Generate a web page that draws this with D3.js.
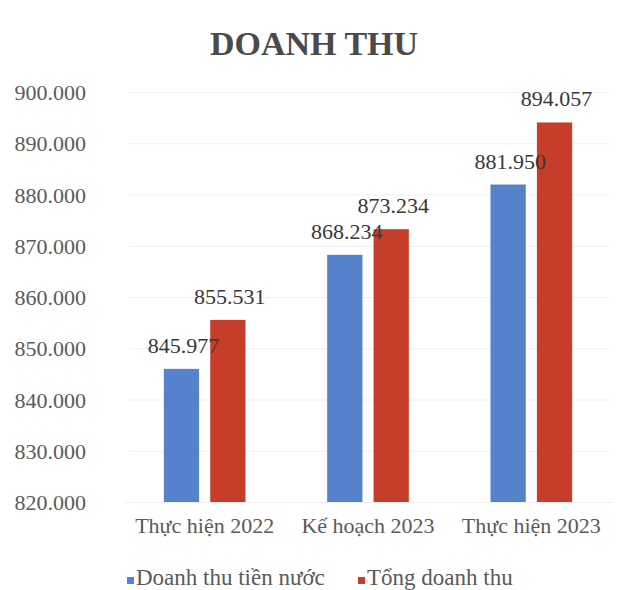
<!DOCTYPE html>
<html>
<head>
<meta charset="utf-8">
<script src="https://cdn.jsdelivr.net/npm/d3@7"></script>
<style>
  body { margin: 0; background: #fff; }
  text { font-family: "Liberation Serif", "Times New Roman", serif; }
</style>
</head>
<body>
<div id="chart-area"></div>
<script>
const categories = ["Thực hiện 2022", "Kế hoạch 2023", "Thực hiện 2023"];
const seriesNames = ["Doanh thu tiền nước", "Tổng doanh thu"];
const waterRevenue = [845977, 868234, 881950];
const totalRevenue = [855531, 873234, 894057];
const yTicks = [820000, 830000, 840000, 850000, 860000, 870000, 880000, 890000, 900000];
const colors = ["#5682cb", "#c63e2a"];

const config = {
    width: 637,
    height: 590,
    margin: { left: 123, right: 24, top: 92, bottom: 88 }
};
config.chartWidth = config.width - config.margin.left - config.margin.right;
config.chartHeight = config.height - config.margin.top - config.margin.bottom;

const rows = categories.map((c, i) => ({
    category: c,
    values: [waterRevenue[i], totalRevenue[i]]
}));

const fmt = v => d3.format(",")(v).replace(/,/g, ".");

const svg = d3.select('#chart-area')
    .append('svg')
    .attr("width", config.width)
    .attr("height", config.height)
    .style('background', '#fff');

svg.append('text')
    .attr('x', 314)
    .attr('y', 55)
    .attr('text-anchor', 'middle')
    .attr('font-size', '34px')
    .attr('font-weight', 'bold')
    .style('fill', '#4a4a4a')
    .text("DOANH THU");

const g = svg.append('g')
    .attr("transform", `translate(${config.margin.left}, ${config.margin.top})`);

const x0 = d3.scaleBand()
    .domain(categories)
    .range([0, config.chartWidth])
    .paddingInner(0.5)
    .paddingOuter(0.25);

const x1 = d3.scaleBand()
    .domain(d3.range(seriesNames.length))
    .range([0, x0.bandwidth()])
    .paddingInner(0.24);

const y = d3.scaleLinear()
    .domain([yTicks[0], yTicks[yTicks.length - 1]])
    .range([config.chartHeight, 0]);

// gridlines
const grid = g.append('g')
    .call(d3.axisLeft(y).tickValues(yTicks).tickSize(-config.chartWidth + 10).tickFormat(""))
    .attr('transform', 'translate(6,0)');
grid.select('.domain').remove();
grid.selectAll('.tick line').style('stroke', '#f0f0f0');

// y axis labels
const yAxisGroup = g.append('g')
    .call(d3.axisLeft(y).tickValues(yTicks).tickSize(0).tickPadding(37).tickFormat(fmt));
yAxisGroup.select('.domain').remove();
yAxisGroup.selectAll('text')
    .attr('font-size', '22px')
    .attr('dy', '0.35em')
    .style('fill', '#5a5a5a');

// x axis labels
const xAxisGroup = g.append('g')
    .attr('transform', `translate(0, ${config.chartHeight})`)
    .call(d3.axisBottom(x0).tickSize(0).tickPadding(15));
xAxisGroup.select('.domain').style('stroke', '#f0f0f0');
xAxisGroup.selectAll('text')
    .attr('font-size', '22px')
    .style('fill', '#5a5a5a');

const groups = g.selectAll('.grp')
    .data(rows)
    .enter().append('g')
    .attr('class', 'grp')
    .attr('transform', d => `translate(${x0(d.category)},0)`);

const bars = groups.selectAll('.bar')
    .data(d => d.values.map((v, i) => ({ v, i })))
    .enter();

bars.append('rect')
    .attr('x', d => x1(d.i))
    .attr('width', x1.bandwidth())
    .attr('y', d => y(d.v))
    .attr('height', d => config.chartHeight - y(d.v))
    .attr('fill', d => colors[d.i]);

bars.append('text')
    .attr('x', d => x1(d.i) + x1.bandwidth() / 2 + 2)
    .attr('y', d => y(d.v) - 16)
    .attr('text-anchor', 'middle')
    .attr('font-size', '22px')
    .style('fill', '#383838')
    .text(d => fmt(d.v));

// legend
const legendPos = [127, 358];
const legend = svg.selectAll('.legend')
    .data(seriesNames)
    .enter().append('g')
    .attr('class', 'legend')
    .attr('transform', (d, i) => `translate(${legendPos[i]}, 585)`);

legend.append('rect')
    .attr('x', 0)
    .attr('y', -8)
    .attr('width', 7)
    .attr('height', 7)
    .attr('fill', (d, i) => colors[i]);

legend.append('text')
    .attr('x', 9)
    .attr('y', 0)
    .attr('font-size', '23px')
    .style('fill', '#5a5a5a')
    .text(d => d);
</script>
</body>
</html>
